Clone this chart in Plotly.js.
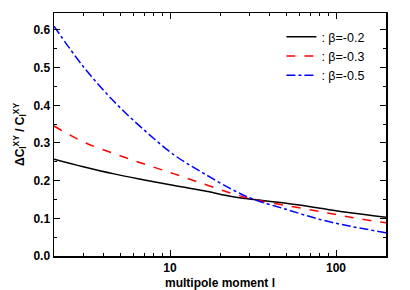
<!DOCTYPE html>
<html>
<head>
<meta charset="utf-8">
<script src="https://cdn.plot.ly/plotly-3.0.1.min.js"></script>
<style>html,body{margin:0;padding:0;background:#fff;}#chart{width:410px;height:290px;}</style>
</head>
<body>
<div id="chart"></div>
<script>
var ell = [2, 3, 4.6, 7, 10.6, 16, 24, 32, 50, 80, 125, 200];
var beta02 = [0.257, 0.237, 0.218, 0.202, 0.187, 0.173, 0.157, 0.150, 0.140, 0.127, 0.114, 0.103];
var beta03 = [0.345, 0.303, 0.272, 0.244, 0.218, 0.191, 0.165, 0.150, 0.134, 0.118, 0.102, 0.088];
var beta05 = [0.610, 0.503, 0.410, 0.334, 0.268, 0.219, 0.175, 0.150, 0.124, 0.097, 0.078, 0.062];
var seriesNames = [': \u03b2=-0.2', ': \u03b2=-0.3', ': \u03b2=-0.5'];
var xTickVals = [10, 100];
var xTickText = ['10', '100'];
var xMinor = [3,4,5,6,7,8,9,20,30,40,50,60,70,80,90,200];

var font = 'Liberation Sans, Arial, sans-serif';
var traces = [
  {x: ell, y: beta02, name: seriesNames[0], mode: 'lines', line: {color: '#000000', width: 1.5, shape: 'spline'}},
  {x: ell, y: beta03, name: seriesNames[1], mode: 'lines', line: {color: '#ff0000', width: 1.5, dash: 'dash', shape: 'spline'}},
  {x: ell, y: beta05, name: seriesNames[2], mode: 'lines', line: {color: '#0000ff', width: 1.5, dash: 'dashdot', shape: 'spline'}}
];
var layout = {
  width: 410, height: 290,
  margin: {l: 54, r: 24, t: 13, b: 34},
  paper_bgcolor: '#fff', plot_bgcolor: '#fff',
  font: {family: font, color: '#000', size: 12},
  showlegend: true,
  legend: {x: 0.685, y: 0.962, xanchor: 'left', yanchor: 'top', bgcolor: 'rgba(0,0,0,0)',
           font: {family: font, size: 12.5, color: '#000'}, tracegroupgap: 0, itemwidth: 30},
  xaxis: {
    type: 'log', range: [Math.log10(2), Math.log10(200)],
    tickvals: xTickVals, ticktext: xTickText,
    ticks: 'inside', ticklen: 6, tickwidth: 1, tickcolor: '#000',
    minor: {tickvals: xMinor, ticks: 'inside', ticklen: 3, tickwidth: 1, tickcolor: '#000', showgrid: false},
    showline: true, linecolor: '#000', linewidth: 1.5, mirror: 'allticks',
    showgrid: false, zeroline: false,
    tickfont: {family: font, size: 12, weight: 'bold'},
    title: {text: 'multipole moment l', font: {family: font, size: 12, weight: 'bold'}, standoff: 4}
  },
  yaxis: {
    range: [0, 0.645], dtick: 0.1, tick0: 0, tickformat: '.1f',
    ticks: 'inside', ticklen: 6, tickwidth: 1, tickcolor: '#000',
    minor: {dtick: 0.05, ticks: 'inside', ticklen: 3, tickwidth: 1, tickcolor: '#000', showgrid: false},
    showline: true, linecolor: '#000', linewidth: 1.5, mirror: 'allticks',
    showgrid: false, zeroline: false,
    tickfont: {family: font, size: 12, weight: 'bold'},
    title: {text: '\u0394C<sub>l</sub><sup>XY</sup> / C<sub>l</sub><sup>XY</sup>', font: {family: font, size: 12, weight: 'bold'}, standoff: 6}
  }
};
Plotly.newPlot('chart', traces, layout, {displayModeBar: false, staticPlot: true});
</script>
</body>
</html>
